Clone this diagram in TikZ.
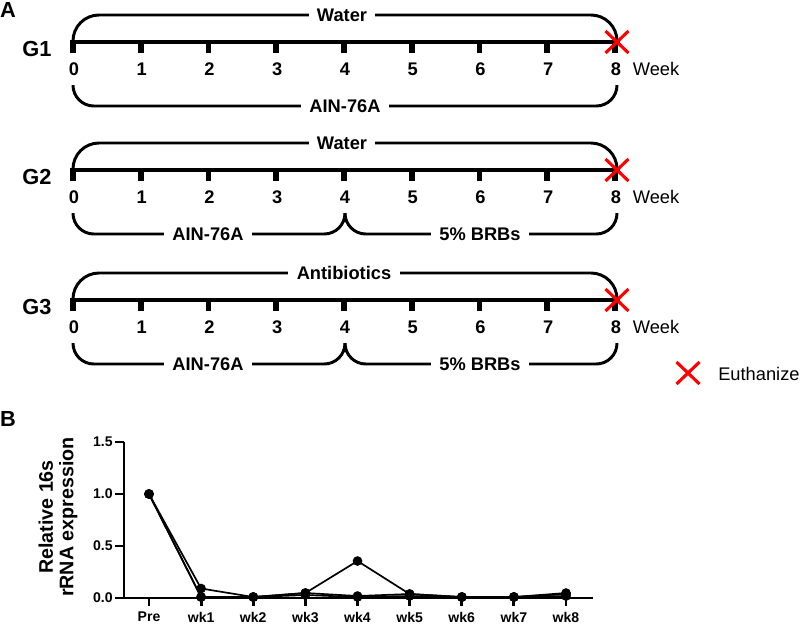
\documentclass[tikz,border=0pt]{standalone}
\usepackage{fontspec}
\setmainfont{Liberation Sans}
\usepackage{tikz}
\usetikzlibrary{positioning}

\begin{document}
\begin{tikzpicture}[x=0.025cm, y=-0.025cm,
  timeline/.style={line width=2.8pt},
  weektick/.style={line width=4.2pt},
  bracket/.style={line width=2.1pt, rounded corners=#1},
  bracket/.default=0.52cm,
  gaplabel/.style={fill=white, inner xsep=6pt, inner ysep=1pt, font=\bfseries\fontsize{13}{15}\selectfont},
  weeknum/.style={inner sep=0pt, font=\bfseries\fontsize{13}{15}\selectfont},
  plainlabel/.style={inner sep=0pt, font=\fontsize{13}{15}\selectfont},
  grouplabel/.style={inner sep=0pt, font=\bfseries\fontsize{15.5}{17}\selectfont},
  panellabel/.style={inner sep=0pt, font=\bfseries\fontsize{15.5}{17}\selectfont},
  euth/.style={red, line width=2.2pt},
  axisB/.style={line width=2.1pt},
  ticklabel/.style={inner sep=0pt, font=\bfseries\fontsize{10}{12}\selectfont},
  dataline/.style={line width=1.2pt, mark=*, mark size=2.8pt}
]
\useasboundingbox (0,0) rectangle (800,634);

% panel A: three feeding schedules
\node[panellabel] (labA) at (8,10) {A};
\foreach \g/\ly/\drink/\dx in {1/42/Water/342, 2/170/Water/342, 3/300/Antibiotics/344}{
  \node[grouplabel] (G\g) at (37,{\ly+7}) {G\g};
  \draw[timeline] (70,\ly) -- (620,\ly);
  \foreach \w in {0,...,8}{
    \draw[weektick] ({73+67.75*\w},\ly) -- ({73+67.75*\w},{\ly+11});
    \node[weeknum] (num\g-\w) at ({74+67.75*\w},{\ly+27}) {\w};
  }
  \node[plainlabel, right=8pt of num\g-8] (week\g) {Week};
  % drinking water above
  \draw[bracket=0.65cm] (73,\ly) -- (73,{\ly-27}) -- (617,{\ly-27}) -- (617,\ly);
  \node[gaplabel] (drink\g) at (\dx,{\ly-27}) {\drink};
  % diet below
  \ifnum\g=1
    \draw[bracket] (73,{\ly+43}) -- (73,{\ly+64}) -- (617,{\ly+64}) -- (617,{\ly+43});
    \node[gaplabel] (diet\g) at (345,{\ly+64}) {AIN-76A};
  \else
    \draw[bracket] (73,{\ly+43}) -- (73,{\ly+64}) -- (345,{\ly+64}) -- (345,{\ly+43});
    \draw[bracket] (345,{\ly+43}) -- (345,{\ly+64}) -- (617,{\ly+64}) -- (617,{\ly+43});
    \node[gaplabel] (diet\g) at (208,{\ly+64}) {AIN-76A};
    \node[gaplabel] (berry\g) at (480,{\ly+64}) {5\% BRBs};
  \fi
  \draw[euth] (605.5,{\ly-11}) -- (628.5,{\ly+11});
  \draw[euth] (605.5,{\ly+11}) -- (628.5,{\ly-11});
}

% legend
\coordinate (cross) at (688,373);
\draw[euth] (676.5,362) -- (699.5,384);
\draw[euth] (676.5,384) -- (699.5,362);
\node[plainlabel, anchor=west] (euthlab) at (718,374) {Euthanize};

% panel B: 16s rRNA over time
\node[panellabel] (labB) at (8,419) {B};
\coordinate (ytop) at (124,442);
\coordinate (origin) at (124,598);
\coordinate (xend) at (593,598);
\draw[axisB] (ytop) -- (origin) -- (xend);
\foreach \v/\lab in {0/0.0, 0.5/0.5, 1/1.0, 1.5/1.5}{
  \draw[axisB] (124,{598-104*\v}) -- (115,{598-104*\v});
  \node[ticklabel, anchor=east] (yl\lab) at (113,{598-104*\v}) {\lab};
}
\foreach \lab [count=\i from 0] in {Pre,wk1,wk2,wk3,wk4,wk5,wk6,wk7,wk8}{
  \draw[axisB] ({149+52.125*\i},598) -- ({149+52.125*\i},606);
  \node[ticklabel] (xl\i) at ({149+52.125*\i},617) {\lab};
}
\node[rotate=90, align=center, inner sep=0pt, font=\bfseries\fontsize{14}{14.5}\selectfont]
  (ylab) at (58,517) {Relative 16s\\rRNA expression};

\draw[dataline] plot coordinates {(149,494) (201.1,597) (253.3,597) (305.4,595) (357.5,597) (409.6,596) (461.8,597) (513.9,597) (566,596)};
\draw[dataline] plot coordinates {(149,494) (201.1,597) (253.3,597) (305.4,593) (357.5,596) (409.6,594) (461.8,597) (513.9,597) (566,593)};
\draw[dataline] plot coordinates {(149,494) (201.1,588.5) (253.3,597) (305.4,593) (357.5,561) (409.6,594) (461.8,597) (513.9,597) (566,594)};
\end{tikzpicture}
\end{document}
